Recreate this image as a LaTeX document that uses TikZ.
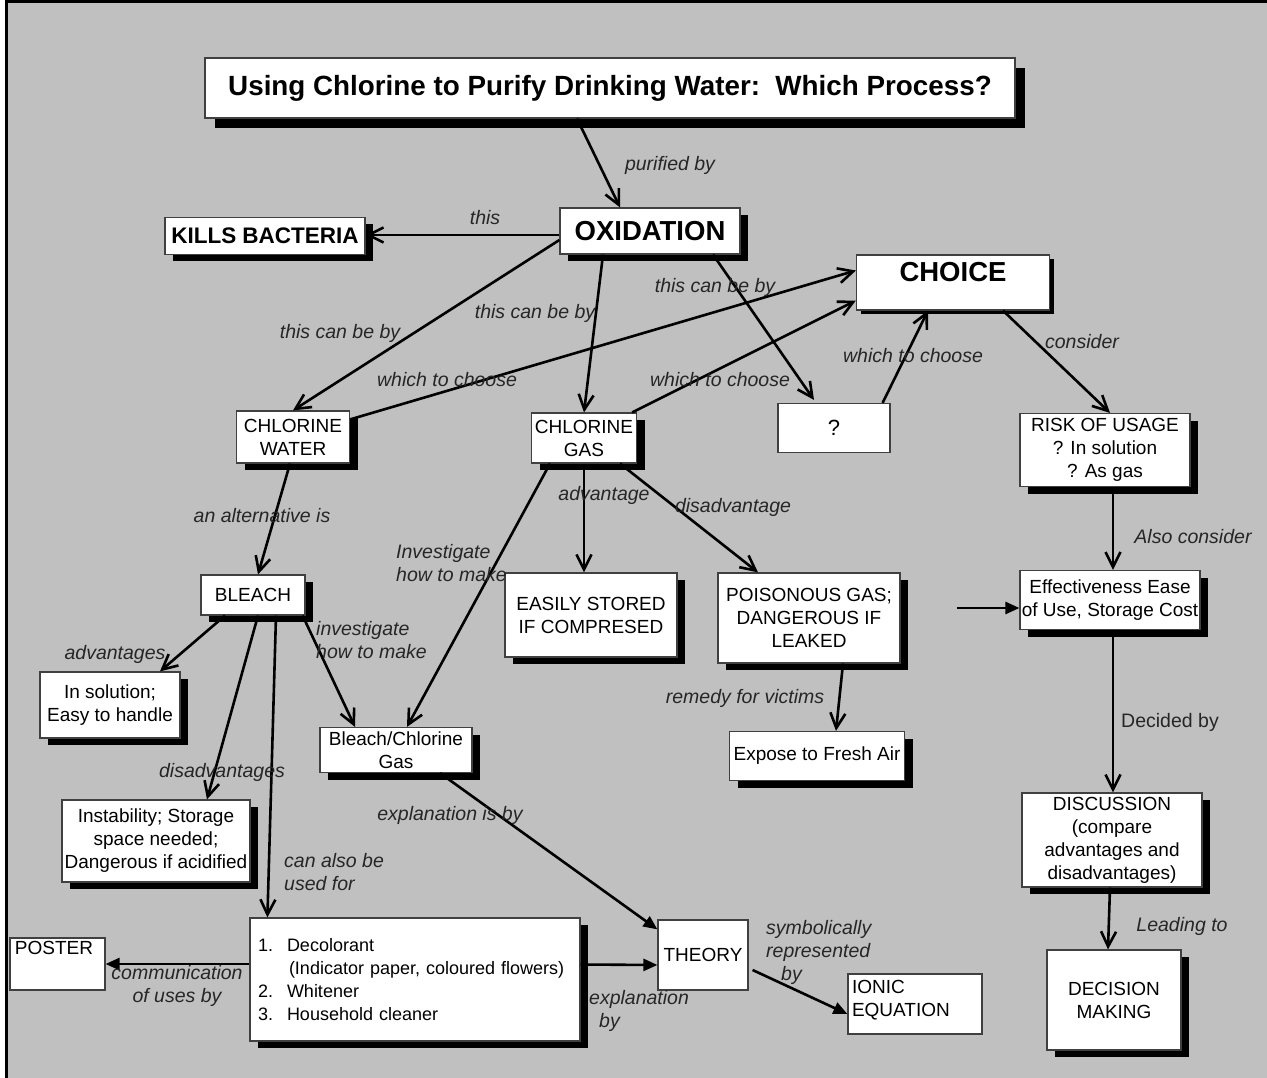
\documentclass[tikz,border=0pt]{standalone}
\usepackage{fontspec}
\setmainfont{Liberation Sans}
\usepackage{tikz}
\usetikzlibrary{arrows.meta,shadows}
\definecolor{bggray}{RGB}{192,192,192}

\begin{document}
\begin{tikzpicture}[
    x=1pt,y=-1pt,
    box/.style={draw=black!75, line width=1.2pt, fill=white, align=center, inner sep=0pt,
      font=\fontsize{19}{23}\selectfont},
    sbox/.style={box, drop shadow={shadow xshift=8pt, shadow yshift=-7pt, fill=black, opacity=1}},
    bigbox/.style={box, drop shadow={shadow xshift=10pt, shadow yshift=-10pt, fill=black, opacity=1}},
    lbl/.style={font=\itshape\fontsize{19.5}{23}\selectfont, text=black!85, align=center, inner sep=1pt},
    link/.style={line width=2.6pt, -{Straight Barb[length=15pt,width=15pt]}},
    fat/.style={line width=2.6pt, -{Triangle[length=14pt,width=12pt]}}
    ]
    \useasboundingbox (0,0) rectangle (1267,1078);
    \fill[white] (0,0) rectangle (1267,1078);
    \fill[bggray] (6,2) rectangle (1267,1078);
    \draw[line width=3pt] (6,1078) -- (6,2) -- (1267,2);

    \node[bigbox, font=\bfseries\fontsize{27.8}{31}\selectfont, minimum width=810pt, minimum height=60pt] (title) at (610,88) {Using Chlorine to Purify Drinking Water:\ \ Which Process?};
    \node[sbox, font=\bfseries\fontsize{27.5}{30}\selectfont, minimum width=180pt, minimum height=46pt] (oxid) at (650,231) {OXIDATION};
    \node[sbox, font=\bfseries\fontsize{22.5}{26}\selectfont, minimum width=200pt, minimum height=37pt] (kills) at (265,236) {KILLS BACTERIA};
    \node[box, drop shadow={shadow xshift=4pt, shadow yshift=-4pt, fill=black, opacity=1}, font=\bfseries\fontsize{27.5}{30}\selectfont, minimum width=193pt, text height=27pt, text depth=28pt] (choice) at (953,282.5) {CHOICE};
    \node[sbox, minimum width=113pt, minimum height=52pt] (cwater) at (293,437) {CHLORINE\\WATER};
    \node[sbox, minimum width=105pt, minimum height=50pt] (cgas) at (584,438) {CHLORINE\\GAS};
    \node[box, font=\fontsize{22}{26}\selectfont, minimum width=112pt, minimum height=49pt] (quest) at (834,428) {?};
    \node[sbox, minimum width=170pt, minimum height=73pt] (risk) at (1105,450) {RISK OF USAGE\\? In solution\\? As gas};
    \node[sbox, minimum width=104pt, minimum height=40pt] (bleach) at (253,595) {BLEACH};
    \node[sbox, minimum width=172pt, minimum height=84pt] (easily) at (591,615) {EASILY STORED\\IF COMPRESED};
    \node[sbox, minimum width=182pt, minimum height=90pt] (poison) at (809,618) {POISONOUS GAS;\\DANGEROUS IF\\LEAKED};
    \node[sbox, minimum width=180pt, minimum height=59pt] (effect) at (1110,600) {Effectiveness Ease\\of Use, Storage Cost};
    \node[sbox, minimum width=140pt, minimum height=66pt] (insol) at (110,705) {In solution;\\Easy to handle};
    \node[sbox, minimum width=152pt, minimum height=45pt] (bcgas) at (396,750) {Bleach/Chlorine\\Gas};
    \node[sbox, minimum width=175pt, minimum height=49pt] (expose) at (817,756) {Expose to Fresh Air};
    \node[sbox, minimum width=188pt, minimum height=82pt] (instab) at (156,841) {Instability; Storage\\space needed;\\Dangerous if acidified};
    \node[sbox, minimum width=180pt, minimum height=94pt] (discuss) at (1112,840) {DISCUSSION\\(compare\\advantages and\\disadvantages)};
    \node[box, align=left, inner xsep=5pt, text width=85pt, text height=16.5pt, text depth=35.5pt] (poster) at (57.5,964) {POSTER};
    \node[sbox, align=left, font=\fontsize{18}{23}\selectfont, inner xsep=8pt, text width=314pt, minimum height=123pt] (uses) at (415,979.5) {\makebox[29pt][l]{1.}Decolorant\\\hspace*{31pt}(Indicator paper, coloured flowers)\\\makebox[29pt][l]{2.}Whitener\\\makebox[29pt][l]{3.}Household cleaner};
    \node[box, minimum width=90pt, minimum height=70pt] (theory) at (703,955) {THEORY};
    \node[box, align=left, inner xsep=4pt, text width=126pt, text height=19.5pt, text depth=40.5pt] (ionic) at (915,1004) {IONIC\\EQUATION};
    \node[sbox, minimum width=134pt, minimum height=100pt] (decision) at (1114,1000) {DECISION\\MAKING};
    \coordinate (fx) at (957,608);

    \draw[link] ([xshift=-33pt]title.south) -- ([xshift=-30pt]oxid.north);
    \draw[link] ([yshift=-4pt]oxid.west) -- ([yshift=1pt]kills.east);
    \draw[link] ([yshift=-9pt]oxid.west) -- (cwater.north);
    \draw[link] ([xshift=-47pt]oxid.south) -- (cgas.north);
    \draw[link] ([xshift=63pt]oxid.south) -- ([xshift=-20pt,yshift=3pt]quest.north);
    \draw[link] ([yshift=-9pt]cwater.north east) -- ([yshift=12pt]choice.west);
    \draw[link] ([xshift=-5pt]cgas.north east) -- ([yshift=-18pt]choice.west);
    \draw[link] ([xshift=-8pt]quest.north east) -- ([xshift=-25pt]choice.south);
    \draw[link] ([xshift=50pt]choice.south) -- ([xshift=5pt]risk.north);
    \draw[link] ([xshift=8pt]risk.south) -- ([xshift=3pt]effect.north);
    \draw[fat] (fx) -- ([yshift=-8pt]effect.west);
    \draw[link] ([xshift=3pt]effect.south) -- ([xshift=1pt]discuss.north);
    \draw[link] ([xshift=-2pt]discuss.south) -- ([xshift=-6pt]decision.north);
    \draw[link] ([xshift=-3pt]cwater.south) -- ([xshift=5pt]bleach.north);
    \draw[link] (cgas.south) -- ([xshift=-7pt]easily.north);
    \draw[link] ([xshift=36pt]cgas.south) -- ([xshift=-51pt]poison.north);
    \draw[link] ([xshift=-34pt]cgas.south) -- ([xshift=11pt]bcgas.north);
    \draw[link] ([xshift=-28pt]bleach.south) -- ([xshift=50pt]insol.north);
    \draw[link] ([xshift=5pt]bleach.south) -- ([xshift=51pt]instab.north);
    \draw[link] ([xshift=23pt]bleach.south) -- ([xshift=18pt]uses.north west);
    \draw[link] ([xshift=-3pt]bleach.south east) -- ([xshift=-41pt]bcgas.north);
    \draw[link] ([xshift=34pt]poison.south) -- ([xshift=19pt]expose.north);
    \draw[fat] ([xshift=44pt]bcgas.south) -- ([yshift=-10pt]theory.north west);
    \draw[fat] ([yshift=15pt]uses.east) -- ([yshift=-10pt]theory.west);
    \draw[fat] (uses.west |- poster.east) -- (poster.east);
    \draw[fat] ([xshift=4pt,yshift=-15pt]theory.east) -- ([yshift=-10pt]ionic.west);

    \node[lbl] (lpur) at (670,165) {purified by};
    \node[lbl] (lthis) at (485,218) {this};
    \node[lbl] (lcan1) at (340,333) {this can be by};
    \node[lbl] (lcan2) at (535,313) {this can be by};
    \node[lbl] (lcan3) at (715,287) {this can be by};
    \node[lbl] (lwh1) at (447,380) {which to choose};
    \node[lbl] (lwh2) at (720,380) {which to choose};
    \node[lbl] (lwh3) at (913,356) {which to choose};
    \node[lbl] (lcons) at (1082,342) {consider};
    \node[lbl] (lalso) at (1193,537) {Also consider};
    \node[lbl, font=\fontsize{19.5}{23}\selectfont] (ldec) at (1170,722) {Decided by};
    \node[lbl] (llead) at (1182,926) {Leading to};
    \node[lbl] (lalt) at (262,516) {an alternative is};
    \node[lbl] (ladv) at (604,495) {advantage};
    \node[lbl] (ldis) at (733,507) {disadvantage};
    \node[lbl, align=left, anchor=west] (linv1) at (395,563) {Investigate\\how to make};
    \node[lbl] (ladvs) at (115,654) {advantages};
    \node[lbl] (ldiss) at (222,772) {disadvantages};
    \node[lbl, align=left, anchor=west] (lused) at (283,872) {can also be\\used for};
    \node[lbl, align=left, anchor=west] (linv2) at (315,640) {investigate\\how to make};
    \node[lbl] (lrem) at (745,698) {remedy for victims};
    \node[lbl] (lexp1) at (450,815) {explanation is by};
    \node[lbl, align=left, anchor=west] (lexp2) at (588,1011) {explanation\\\hspace*{10pt}by};
    \node[lbl] (lcomm) at (177,986) {communication\\of uses by};
    \node[lbl, align=left, anchor=west] (lsym) at (765,952) {symbolically\\represented\\\hspace*{15pt}by};
  \end{tikzpicture}
\end{document}
